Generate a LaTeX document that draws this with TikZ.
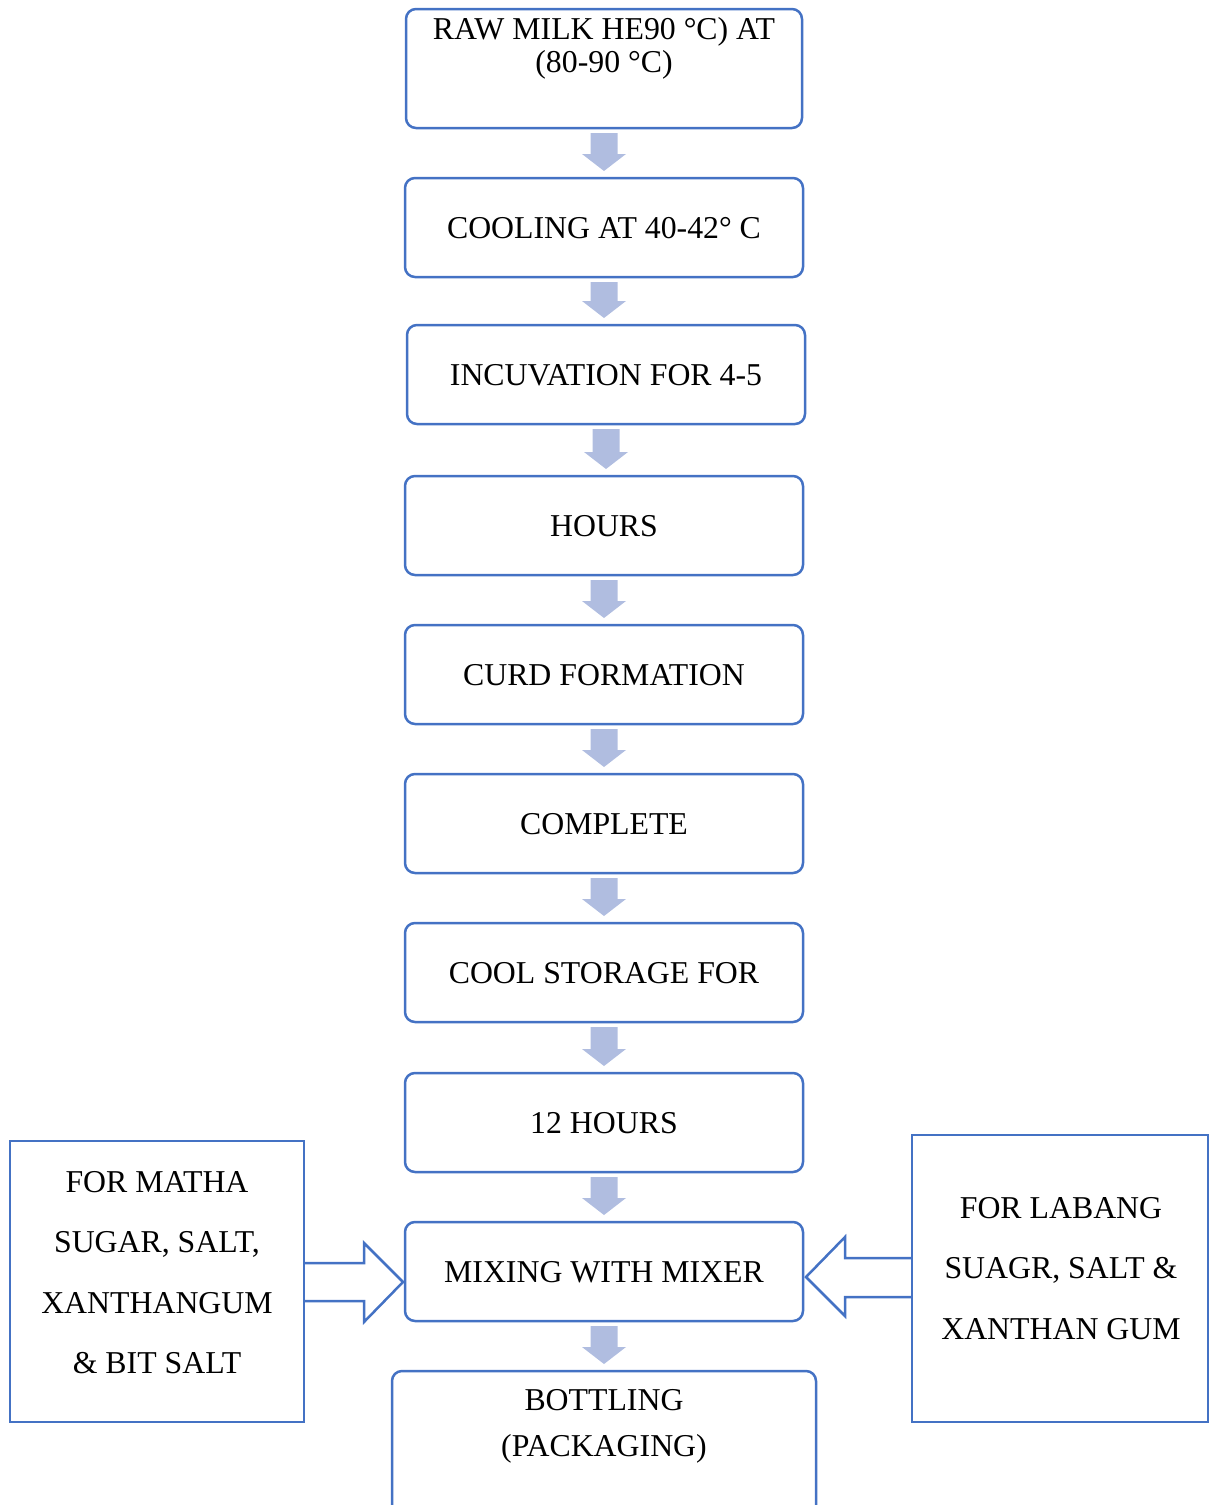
\documentclass[tikz,border=0pt]{standalone}
\usepackage{fontspec}
\setmainfont{Liberation Serif}
\usetikzlibrary{calc}

\definecolor{boxblue}{RGB}{68,114,196}
\definecolor{flowfill}{RGB}{176,189,224}

\tikzset{
  stepbox/.style={draw=boxblue, line width=2.5pt, rounded corners=10pt,
    rectangle, inner sep=0pt, outer sep=0pt,
    text height=21pt, text depth=0pt,
    font=\fontsize{31.8}{36}\selectfont},
  sidebox/.style={draw=boxblue, line width=2.5pt, rectangle,
    inner sep=0pt, outer sep=0pt},
  label/.style={anchor=base, inner sep=0pt, outer sep=0pt,
    font=\fontsize{31.8}{36}\selectfont},
  flow/.style={fill=flowfill},
  blockarrow/.style={draw=boxblue, line width=2.5pt, line join=miter}
}

\begin{document}
\begin{tikzpicture}[x=1pt, y=-1pt]
  \useasboundingbox (0,0) rectangle (1209,1505);
  \clip (0,0) rectangle (1209,1505);

  % main process steps
  \node[stepbox, minimum width=396, minimum height=119] (b1) at (604,68.5) {};
  \node[label] (t1a) at (604,39) {RAW MILK HE90 °C) AT};
  \node[label] (t1b) at (604,72) {(80-90 °C)};

  \node[stepbox, minimum width=398, minimum height=99] (b2) at (604,227.5) {COOLING AT 40-42° C};
  \node[stepbox, minimum width=398, minimum height=99] (b3) at (606,374.5) {INCUVATION FOR 4-5};
  \node[stepbox, minimum width=398, minimum height=99] (b4) at (604,525.5) {HOURS};
  \node[stepbox, minimum width=398, minimum height=99] (b5) at (604,674.5) {CURD FORMATION};
  \node[stepbox, minimum width=398, minimum height=99] (b6) at (604,823.5) {COMPLETE};
  \node[stepbox, minimum width=398, minimum height=99] (b7) at (604,972.5) {COOL STORAGE FOR};
  \node[stepbox, minimum width=398, minimum height=99] (b8) at (604,1122.5) {12 HOURS};
  \node[stepbox, minimum width=398, minimum height=99] (b9) at (604,1271.5) {MIXING WITH MIXER};

  \node[stepbox, minimum width=424, minimum height=159] (b10) at (604,1450.5) {};
  \node[label] (t10a) at (604,1410) {BOTTLING};
  \node[label] (t10b) at (604,1456) {(PACKAGING)};

  % ingredient boxes
  \node[sidebox, minimum width=294, minimum height=281] (L) at (157,1281.5) {};
  \node[label] (tla) at (157,1192) {FOR MATHA};
  \node[label] (tlb) at (157,1252) {SUGAR, SALT,};
  \node[label] (tlc) at (157,1313) {XANTHANGUM};
  \node[label] (tld) at (157,1373) {\& BIT SALT};

  \node[sidebox, minimum width=296, minimum height=287] (R) at (1060,1278.5) {};
  \node[label] (tra) at (1061,1218) {FOR LABANG};
  \node[label] (trb) at (1061,1278) {SUAGR, SALT \&};
  \node[label] (trc) at (1061,1339) {XANTHAN GUM};

  % downward flow arrows between steps
  \foreach \u/\l in {b1/b2,b2/b3,b3/b4,b4/b5,b5/b6,b6/b7,b7/b8,b8/b9,b9/b10}{
    \path (\u.south) ++(0,5) coordinate (ashaft);
    \path (\u.south |- \l.north) ++(0,-7) coordinate (atip);
    \fill[flow] ($(ashaft)+(-13.5,0)$) -- ($(ashaft)+(13.5,0)$)
      -- ($(atip)+(13.5,-17)$) -- ($(atip)+(22,-17)$) -- (atip)
      -- ($(atip)+(-22,-17)$) -- ($(atip)+(-13.5,-17)$) -- cycle;
  }

  % block arrows feeding the mixer
  \draw[blockarrow] ($(L.east)+(0,-18.5)$) -- ($(L.east)+(60,-18.5)$)
    -- ($(L.east)+(60,-38.5)$) -- ($(L.east)+(99,0.5)$)
    -- ($(L.east)+(60,40.5)$) -- ($(L.east)+(60,19.5)$)
    -- ($(L.east)+(0,19.5)$);
  \draw[blockarrow] ($(R.west)+(0,-20.5)$) -- ($(R.west)+(-67,-20.5)$)
    -- ($(R.west)+(-67,-41.5)$) -- ($(R.west)+(-106,-1.5)$)
    -- ($(R.west)+(-67,37.5)$) -- ($(R.west)+(-67,18.5)$)
    -- ($(R.west)+(0,18.5)$);
\end{tikzpicture}
\end{document}
